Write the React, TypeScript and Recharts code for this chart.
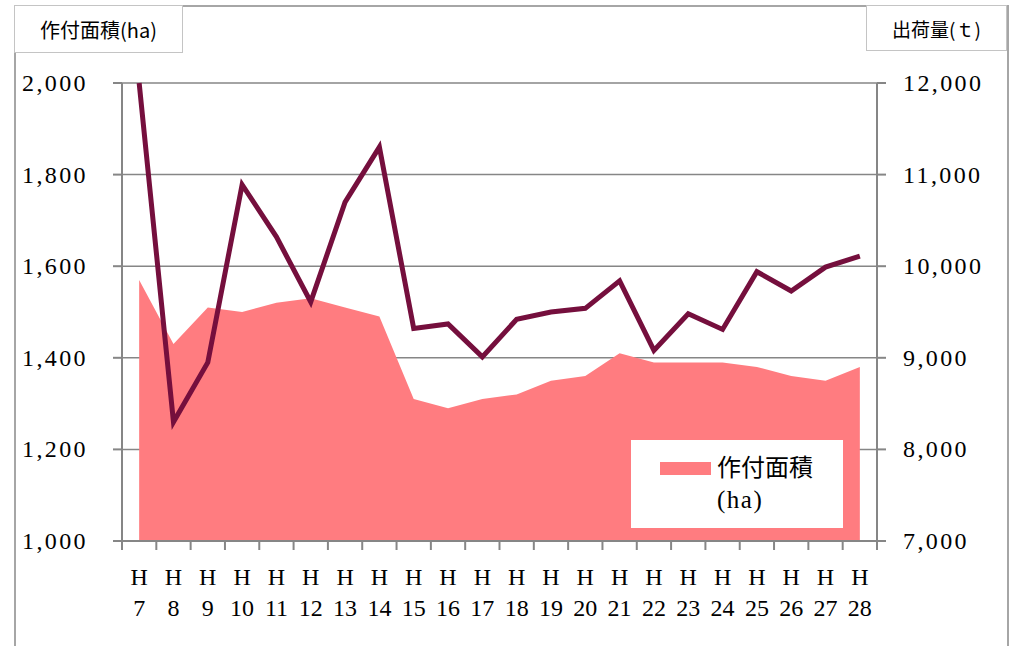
import React from 'react';
import {
  ComposedChart,
  Area,
  Line,
  XAxis,
  YAxis,
  CartesianGrid,
  Legend
} from 'recharts';

const years = ['7', '8', '9', '10', '11', '12', '13', '14', '15', '16', '17', '18', '19', '20', '21', '22', '23', '24', '25', '26', '27', '28'];
const areaHa = [1570, 1430, 1510, 1500, 1520, 1530, 1510, 1490, 1310, 1290, 1310, 1320, 1350, 1360, 1410, 1390, 1390, 1390, 1380, 1360, 1350, 1380];
const shipmentT = [12000, 8300, 8950, 10890, 10320, 9610, 10700, 11300, 9320, 9370, 9010, 9420, 9500, 9540, 9840, 9080, 9480, 9310, 9940, 9730, 9990, 10110];
const leftTicks = [1000, 1200, 1400, 1600, 1800, 2000];
const rightTicks = [7000, 8000, 9000, 10000, 11000, 12000];

const data = years.map((y, i) => ({ year: y, area: areaHa[i], shipment: shipmentT[i] }));

const AREA_COLOR = '#FF7C80';
const LINE_COLOR = '#750F3D';
const AXIS_COLOR = '#868686';
const SERIF = "'Liberation Serif', 'DejaVu Serif', serif";
const STEP = 755 / 22;

const fmt = (v: number) => v.toLocaleString('en-US');

const XTick = (props: any) => {
  const { x, y, payload, index } = props;
  return (
    <g>
      <line x1={x - STEP / 2} y1={y} x2={x - STEP / 2} y2={y + 9} stroke={AXIS_COLOR} strokeWidth={2} />
      {index === years.length - 1 && (
        <line x1={x + STEP / 2} y1={y} x2={x + STEP / 2} y2={y + 9} stroke={AXIS_COLOR} strokeWidth={2} />
      )}
      <text x={x} y={y + 44} textAnchor="middle" fontFamily={SERIF} fontSize={24} fill="#000">H</text>
      <text x={x} y={y + 75} textAnchor="middle" fontFamily={SERIF} fontSize={24} fill="#000">{payload.value}</text>
    </g>
  );
};

const YTick = (props: any) => {
  const { x, y, payload, textAnchor } = props;
  return (
    <text
      x={x}
      y={y + 8}
      textAnchor={textAnchor}
      fontFamily={SERIF}
      fontSize={24}
      fill="#000"
      style={{ letterSpacing: '2.4px' }}
    >
      {fmt(payload.value)}
    </text>
  );
};

const LegendBox = () => (
  <div style={{ width: 212, height: 88, background: '#fff', position: 'relative', fontFamily: "'Liberation Serif', 'Noto Sans CJK JP', serif", fontSize: 24, color: '#000' }}>
    <div style={{ position: 'absolute', left: 29, top: 22, width: 51, height: 13, background: AREA_COLOR }} />
    <div style={{ position: 'absolute', left: 86, top: 12, lineHeight: '32px', whiteSpace: 'nowrap' }}>
      作付面積<br />
      <span style={{ fontFamily: SERIF, fontSize: 25, letterSpacing: '1.5px' }}>(ha)</span>
    </div>
  </div>
);

const headerBox: React.CSSProperties = {
  position: 'absolute',
  border: '1.5px solid #c4c4c4',
  background: '#fff',
  boxSizing: 'border-box',
  display: 'flex',
  alignItems: 'center',
  justifyContent: 'center',
  fontFamily: "'Noto Sans CJK JP', 'Noto Sans', sans-serif",
  color: '#000'
};

const App = () => {
  return (
    <div style={{ position: 'absolute', left: 0, top: 0, width: 1018, height: 646, background: '#fff', overflow: 'hidden' }}>
      <div style={{ position: 'absolute', left: 14, top: 5, width: 995, height: 660, border: '2px solid #a6a6a6', boxSizing: 'border-box' }} />
      <ComposedChart
        width={1018}
        height={646}
        data={data}
        margin={{ top: 83, right: 21, bottom: 25, left: 12 }}
      >
        <CartesianGrid yAxisId="left" vertical={false} stroke={AXIS_COLOR} strokeWidth={1.5} />
        <XAxis
          dataKey="year"
          height={80}
          padding={{ left: STEP / 2, right: STEP / 2 }}
          axisLine={{ stroke: AXIS_COLOR, strokeWidth: 2 }}
          tickLine={false}
          tickSize={0}
          tickMargin={0}
          interval={0}
          tick={<XTick />}
        />
        <YAxis
          yAxisId="left"
          width={110}
          domain={[1000, 2000]}
          ticks={leftTicks}
          interval={0}
          axisLine={{ stroke: AXIS_COLOR, strokeWidth: 2 }}
          tickLine={{ stroke: AXIS_COLOR, strokeWidth: 2 }}
          tickSize={9}
          tickMargin={25}
          tick={<YTick />}
        />
        <YAxis
          yAxisId="right"
          orientation="right"
          width={120}
          domain={[7000, 12000]}
          ticks={rightTicks}
          interval={0}
          axisLine={{ stroke: AXIS_COLOR, strokeWidth: 2 }}
          tickLine={{ stroke: AXIS_COLOR, strokeWidth: 2 }}
          tickSize={9}
          tickMargin={17}
          tick={<YTick />}
        />
        <Area
          yAxisId="left"
          type="linear"
          dataKey="area"
          name="作付面積(ha)"
          fill={AREA_COLOR}
          fillOpacity={1}
          stroke="none"
          isAnimationActive={false}
        />
        <Line
          yAxisId="right"
          type="linear"
          dataKey="shipment"
          name="出荷量(t)"
          stroke={LINE_COLOR}
          strokeWidth={5}
          dot={false}
          activeDot={false}
          legendType="none"
          isAnimationActive={false}
        />
        <Legend
          layout="vertical"
          align="center"
          verticalAlign="middle"
          content={<LegendBox />}
          wrapperStyle={{ position: 'absolute', left: 631, top: 440, width: 212, height: 88 }}
        />
      </ComposedChart>
      <div style={{ ...headerBox, left: 14, top: 5, width: 169, height: 48, fontSize: 20 }}>作付面積(ha)</div>
      <div style={{ ...headerBox, left: 866, top: 5, width: 141, height: 46, fontSize: 19 }}>出荷量(ｔ)</div>
    </div>
  );
};

export default App;
